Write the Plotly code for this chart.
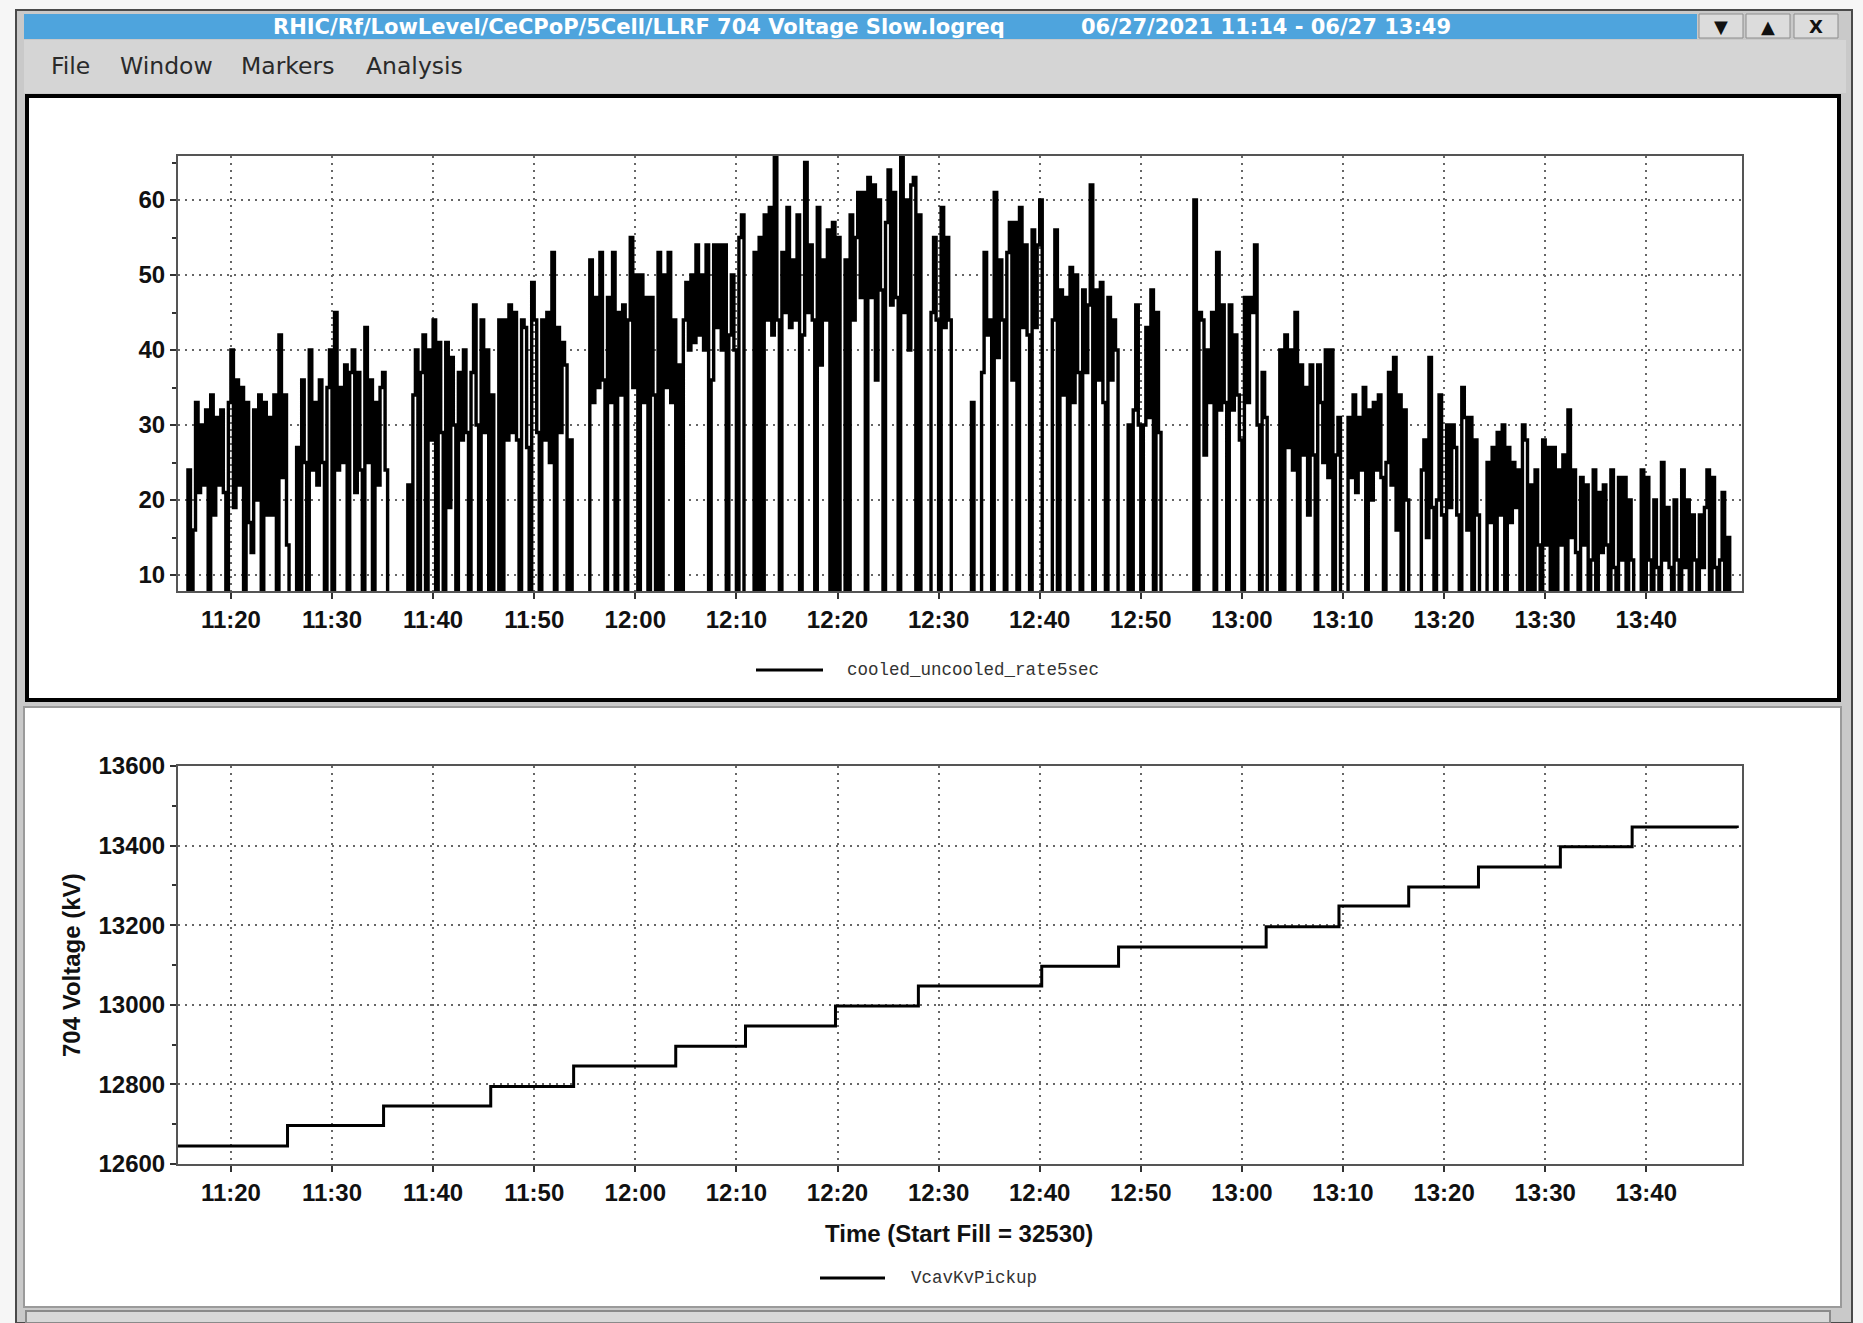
import plotly.graph_objects as go
import pandas as pd

W, H = 1863, 1323


def px(x):
    return x / W


def py(y):
    return 1 - y / H


DAY = "2021-06-27 "

# ---- top panel: cooled_uncooled_rate5sec, one sample every 15 s from 11:15:00 ----
rate_start = DAY + "11:15:00"
rate_values = [
    0, 0, 0, 24,     # 11:15
    0, 16, 33, 21,   # 11:16
    30, 22, 32, 0,   # 11:17
    34, 18, 31, 22,  # 11:18
    32, 21, 0, 33,   # 11:19
    40, 19, 36, 22,  # 11:20
    35, 0, 33, 17,   # 11:21
    13, 32, 20, 34,  # 11:22
    0, 33, 18, 31,   # 11:23
    18, 34, 0, 42,   # 11:24
    23, 34, 14, 0,   # 11:25
    0, 0, 27, 0,     # 11:26
    36, 25, 0, 40,   # 11:27
    24, 33, 22, 36,  # 11:28
    25, 0, 35, 40,   # 11:29
    0, 45, 24, 35,   # 11:30
    25, 38, 0, 37,   # 11:31
    40, 21, 37, 24,  # 11:32
    0, 43, 25, 36,   # 11:33
    0, 33, 22, 35,   # 11:34
    37, 24, 0, 0,    # 11:35
    0, 0, 0, 0,      # 11:36
    0, 0, 22, 0,     # 11:37
    34, 40, 0, 37,   # 11:38
    42, 0, 40, 28,   # 11:39
    44, 0, 41, 29,   # 11:40
    0, 41, 19, 39,   # 11:41
    30, 0, 37, 28,   # 11:42
    40, 29, 0, 37,   # 11:43
    46, 30, 0, 44,   # 11:44
    29, 40, 0, 34,   # 11:45
    0, 0, 44, 0,     # 11:46
    44, 28, 46, 29,  # 11:47
    45, 28, 0, 44,   # 11:48
    43, 27, 0, 49,   # 11:49
    44, 29, 0, 44,   # 11:50
    28, 45, 25, 53,  # 11:51
    0, 43, 29, 41,   # 11:52
    38, 0, 28, 0,    # 11:53
    0, 0, 0, 0,      # 11:54
    0, 0, 52, 33,    # 11:55
    47, 35, 53, 36,  # 11:56
    0, 47, 33, 53,   # 11:57
    0, 45, 34, 46,   # 11:58
    0, 44, 55, 35,   # 11:59
    50, 0, 50, 33,   # 12:00
    47, 0, 47, 34,   # 12:01
    0, 53, 0, 50,    # 12:02
    35, 53, 33, 44,  # 12:03
    0, 38, 0, 44,    # 12:04
    49, 40, 50, 41,  # 12:05
    54, 42, 50, 40,  # 12:06
    54, 0, 36, 54,   # 12:07
    43, 54, 40, 54,  # 12:08
    0, 42, 50, 40,   # 12:09
    0, 55, 58, 0,    # 12:10
    0, 0, 0, 53,     # 12:11
    0, 55, 0, 58,    # 12:12
    44, 59, 42, 66,  # 12:13
    44, 0, 53, 45,   # 12:14
    59, 43, 52, 44,  # 12:15
    58, 0, 42, 65,   # 12:16
    45, 54, 44, 0,   # 12:17
    59, 38, 52, 44,  # 12:18
    56, 0, 57, 0,    # 12:19
    55, 0, 0, 52,    # 12:20
    0, 58, 44, 55,   # 12:21
    61, 47, 61, 0,   # 12:22
    63, 47, 62, 36,  # 12:23
    60, 48, 0, 57,   # 12:24
    64, 46, 61, 47,  # 12:25
    0, 66, 45, 60,   # 12:26
    40, 62, 63, 0,   # 12:27
    58, 0, 0, 0,     # 12:28
    0, 45, 55, 44,   # 12:29
    0, 59, 43, 55,   # 12:30
    44, 0, 0, 0,     # 12:31
    0, 0, 0, 0,      # 12:32
    0, 33, 0, 0,     # 12:33
    0, 37, 53, 42,   # 12:34
    44, 0, 61, 39,   # 12:35
    52, 44, 0, 53,   # 12:36
    57, 36, 57, 0,   # 12:37
    59, 43, 54, 42,  # 12:38
    0, 56, 43, 54,   # 12:39
    60, 0, 0, 0,     # 12:40
    0, 44, 56, 0,    # 12:41
    48, 34, 47, 0,   # 12:42
    51, 33, 50, 37,  # 12:43
    0, 48, 37, 46,   # 12:44
    62, 0, 48, 36,   # 12:45
    49, 33, 0, 47,   # 12:46
    36, 44, 40, 0,   # 12:47
    0, 0, 0, 30,     # 12:48
    0, 32, 46, 30,   # 12:49
    0, 30, 43, 31,   # 12:50
    48, 0, 45, 29,   # 12:51
    0, 0, 0, 0,      # 12:52
    0, 0, 0, 0,      # 12:53
    0, 0, 0, 0,      # 12:54
    0, 60, 0, 45,    # 12:55
    44, 26, 40, 33,  # 12:56
    45, 0, 53, 32,   # 12:57
    46, 33, 0, 46,   # 12:58
    32, 42, 34, 28,  # 12:59
    0, 47, 33, 47,   # 13:00
    45, 54, 30, 0,   # 13:01
    37, 31, 0, 0,    # 13:02
    0, 0, 0, 40,     # 13:03
    0, 42, 27, 40,   # 13:04
    24, 45, 0, 38,   # 13:05
    26, 35, 18, 38,  # 13:06
    26, 0, 38, 33,   # 13:07
    25, 40, 23, 40,  # 13:08
    0, 26, 31, 0,    # 13:09
    0, 0, 31, 23,    # 13:10
    34, 21, 31, 24,  # 13:11
    35, 0, 32, 20,   # 13:12
    33, 24, 34, 23,  # 13:13
    0, 25, 37, 22,   # 13:14
    39, 16, 34, 0,   # 13:15
    32, 20, 0, 0,    # 13:16
    0, 0, 0, 24,     # 13:17
    28, 15, 39, 19,  # 13:18
    0, 20, 34, 18,   # 13:19
    0, 30, 19, 30,   # 13:20
    27, 18, 0, 35,   # 13:21
    31, 16, 31, 0,   # 13:22
    28, 18, 0, 0,    # 13:23
    0, 25, 17, 27,   # 13:24
    0, 29, 18, 30,   # 13:25
    0, 27, 17, 25,   # 13:26
    19, 24, 0, 30,   # 13:27
    28, 0, 22, 0,    # 13:28
    24, 14, 0, 28,   # 13:29
    14, 27, 0, 27,   # 13:30
    0, 24, 14, 26,   # 13:31
    0, 32, 15, 24,   # 13:32
    13, 0, 23, 14,   # 13:33
    22, 0, 12, 24,   # 13:34
    0, 21, 13, 22,   # 13:35
    14, 0, 24, 11,   # 13:36
    0, 23, 12, 23,   # 13:37
    0, 20, 12, 0,    # 13:38
    0, 0, 24, 0,     # 13:39
    23, 12, 0, 20,   # 13:40
    11, 0, 25, 12,   # 13:41
    19, 11, 0, 20,   # 13:42
    12, 0, 24, 11,   # 13:43
    20, 0, 18, 12,   # 13:44
    0, 18, 11, 19,   # 13:45
    24, 0, 23, 11,   # 13:46
    0, 12, 21, 0,    # 13:47
    15, 0, 0, 0,     # 13:48
]
rate_times = pd.date_range(rate_start, periods=len(rate_values), freq="15s")

# ---- bottom panel: VcavKvPickup step levels (kV) ----
volt_times = [
    "11:14:46", "11:25:36", "11:35:06", "11:45:42", "11:53:54", "12:04:00",
    "12:10:54", "12:19:48", "12:28:00", "12:40:12", "12:47:48", "13:02:24",
    "13:09:36", "13:16:30", "13:23:24", "13:31:30", "13:38:36", "13:49:00",
]
volt_levels = [
    12645, 12697, 12746, 12795, 12846, 12896,
    12947, 12997, 13047, 13097, 13145, 13196,
    13248, 13296, 13346, 13397, 13447, 13444,
]

x_range = [DAY + "11:14:46", DAY + "13:49:28"]
tick_start = DAY + "11:20:00"
rate_range = [7.87, 65.87]
volt_range = [12600, 13600]

window_title = "RHIC/Rf/LowLevel/CeCPoP/5Cell/LLRF 704 Voltage Slow.logreq"
window_dates = "06/27/2021 11:14 - 06/27 13:49"
menu_items = ["File", "Window", "Markers", "Analysis"]
menu_x = [49, 118, 239, 364]
y_title = "704 Voltage (kV)"
x_title = "Time (Start Fill = 32530)"
legend_top = "cooled_uncooled_rate5sec"
legend_bottom = "VcavKvPickup"

fig = go.Figure()
fig.add_trace(go.Scatter(
    x=rate_times, y=rate_values, mode="lines",
    line=dict(color="black", width=3.4, shape="hv", simplify=False),
    xaxis="x", yaxis="y", name=legend_top, showlegend=False, hoverinfo="skip",
))
fig.add_trace(go.Scatter(
    x=[DAY + t for t in volt_times], y=volt_levels, mode="lines",
    line=dict(color="black", width=3, shape="hv"), xaxis="x2", yaxis="y2",
    name=legend_bottom, showlegend=False, hoverinfo="skip",
))

tick_font = dict(family="Liberation Sans", size=24, color="#111", weight="bold")
common_x = dict(
    type="date", range=x_range, tick0=tick_start, dtick=600000,
    tickformat="%H:%M", showgrid=True, gridcolor="#666", gridwidth=1.5,
    griddash="2px,5px", showline=True, linecolor="#555", linewidth=2,
    mirror=True, ticks="outside", ticklen=6, tickcolor="#333", tickwidth=2,
    tickfont=tick_font, zeroline=False, domain=[px(178), px(1742)],
    automargin=False,
)
common_y = dict(
    showgrid=True, gridcolor="#666", gridwidth=1.5, griddash="2px,5px",
    showline=True, linecolor="#555", linewidth=2, mirror=True,
    ticks="outside", ticklen=6, tickcolor="#333", tickwidth=2,
    tickfont=tick_font, zeroline=False, tickformat="d", automargin=False,
)

P = dict(xref="paper", yref="paper")
shapes = [
    # window frame
    dict(type="rect", **P, x0=px(16), x1=px(1852), y0=py(1323), y1=py(10),
         fillcolor="#c9c9c9", line=dict(color="#4a4a4a", width=2), layer="below"),
    # title bar
    dict(type="rect", **P, x0=px(24), x1=px(1697), y0=py(39), y1=py(14),
         fillcolor="#4ea4dd", line=dict(width=0), layer="below"),
    # menu bar
    dict(type="rect", **P, x0=px(24), x1=px(1846), y0=py(93), y1=py(40),
         fillcolor="#d5d5d5", line=dict(width=0), layer="below"),
    # top panel
    dict(type="rect", **P, x0=px(27), x1=px(1839), y0=py(700), y1=py(96),
         fillcolor="white", line=dict(color="black", width=4), layer="below"),
    # bottom panel
    dict(type="rect", **P, x0=px(24), x1=px(1841), y0=py(1307), y1=py(707),
         fillcolor="white", line=dict(color="#9a9a9a", width=2), layer="below"),
    # bottom status bar
    dict(type="rect", **P, x0=px(26), x1=px(1830), y0=py(1323), y1=py(1311),
         fillcolor="#d8d8d8", line=dict(color="#8a8a8a", width=2), layer="below"),
    # legend samples
    dict(type="line", **P, x0=px(756), x1=px(823), y0=py(670), y1=py(670),
         line=dict(color="black", width=3)),
    dict(type="line", **P, x0=px(820), x1=px(885), y0=py(1278), y1=py(1278),
         line=dict(color="black", width=3)),
]
for bx0, bx1 in [(1699, 1743), (1746, 1790), (1794, 1838)]:
    shapes.append(dict(type="rect", **P, x0=px(bx0), x1=px(bx1), y0=py(38),
                       y1=py(14), fillcolor="#dcdcdc",
                       line=dict(color="#8c8c8c", width=1), layer="below"))

title_font = dict(family="DejaVu Sans", size=21, color="white", weight="bold")
annotations = [
    dict(text=window_title, **P, x=px(271), y=py(27), xanchor="left",
         yanchor="middle", showarrow=False, font=title_font),
    dict(text=window_dates, **P, x=px(1079), y=py(27), xanchor="left",
         yanchor="middle", showarrow=False, font=title_font),
]
for glyph, gx in [("▼", 1721), ("▲", 1768), ("X", 1816)]:
    annotations.append(dict(text=glyph, **P, x=px(gx), y=py(26), xanchor="center",
                            yanchor="middle", showarrow=False,
                            font=dict(family="DejaVu Sans", size=18, color="#111",
                                      weight="bold")))
for item, mx in zip(menu_items, menu_x):
    annotations.append(dict(text=item, **P, x=px(mx), y=py(66), xanchor="left",
                            yanchor="middle", showarrow=False,
                            font=dict(family="DejaVu Sans", size=23.5, color="#2a2a2a")))
annotations += [
    dict(text=y_title, **P, x=px(71), y=py(965), textangle=-90, xanchor="center",
         yanchor="middle", showarrow=False,
         font=dict(family="Liberation Sans", size=24, color="#111", weight="bold")),
    dict(text=x_title, **P, x=px(959), y=py(1233), xanchor="center",
         yanchor="middle", showarrow=False,
         font=dict(family="Liberation Sans", size=24, color="#111", weight="bold")),
    dict(text=legend_top, **P, x=px(845), y=py(670), xanchor="left",
         yanchor="middle", showarrow=False,
         font=dict(family="Liberation Mono", size=17.5, color="#333")),
    dict(text=legend_bottom, **P, x=px(909), y=py(1278), xanchor="left",
         yanchor="middle", showarrow=False,
         font=dict(family="Liberation Mono", size=17.5, color="#333")),
]

fig.update_layout(
    template="none",
    width=W, height=H,
    margin=dict(l=0, r=0, t=0, b=0, pad=0, autoexpand=False),
    paper_bgcolor="#f6f6f6", plot_bgcolor="rgba(0,0,0,0)",
    showlegend=False,
    xaxis=dict(common_x, anchor="y"),
    yaxis=dict(common_y, domain=[py(591), py(156)], range=rate_range,
               tick0=0, dtick=10,
               minor=dict(ticks="outside", ticklen=4, tickcolor="#333",
                          dtick=5, tick0=0, showgrid=False)),
    xaxis2=dict(common_x, anchor="y2"),
    yaxis2=dict(common_y, domain=[py(1164), py(766)], range=volt_range,
                tick0=12600, dtick=200,
                minor=dict(ticks="outside", ticklen=4, tickcolor="#333",
                           dtick=100, tick0=12600, showgrid=False)),
    shapes=shapes,
    annotations=annotations,
)

fig.write_html("out.html", config={"displayModeBar": False})
